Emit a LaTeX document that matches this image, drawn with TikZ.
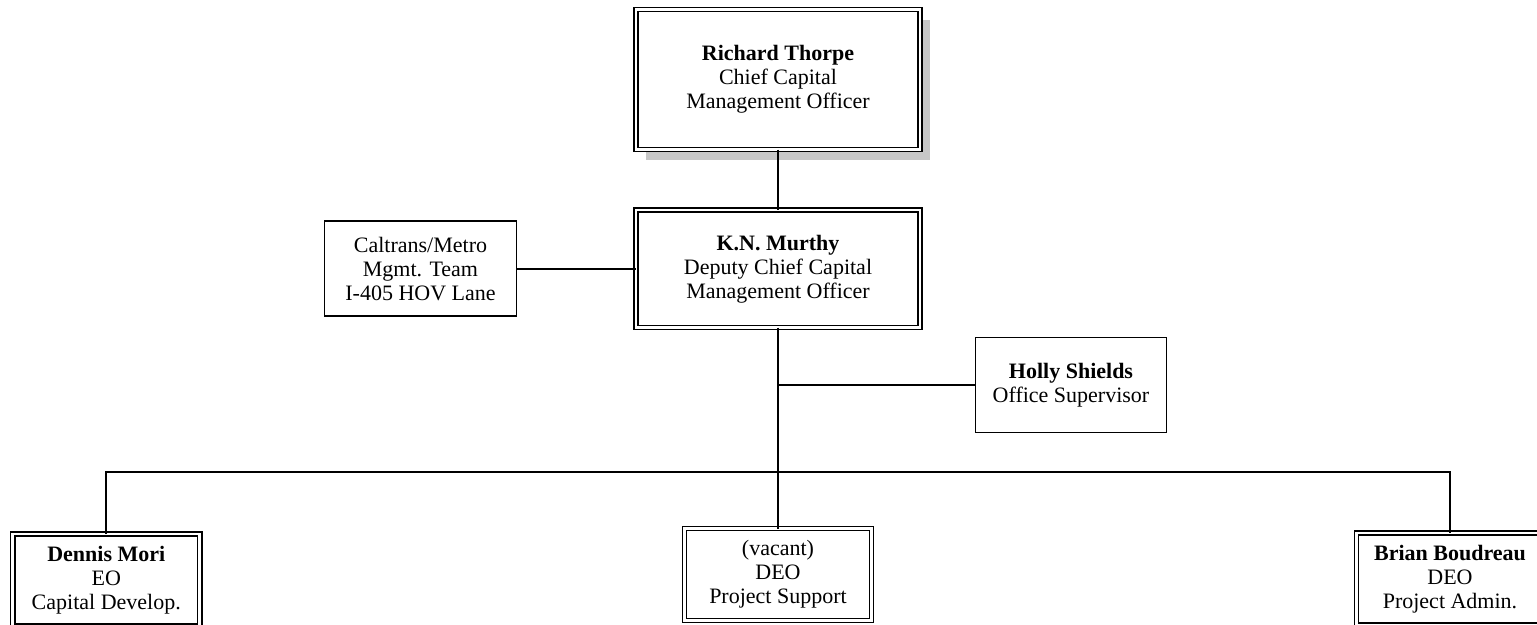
\documentclass[tikz,border=0pt]{standalone}
\usepackage{fontspec}
\setmainfont{Liberation Serif}
\usepackage{tikz}
\usetikzlibrary{positioning,shadows}

\begin{document}
\begin{tikzpicture}[x=1pt,y=-1pt,node distance=60pt and 120pt,
  every node/.style={font=\fontsize{22}{24}\selectfont,align=center,outer sep=0pt,inner sep=2pt},
  post/.style={draw,double,double distance=2.8pt,line width=1.5pt,fill=white,minimum width=187pt,minimum height=92pt},
  aside/.style={draw,line width=1.6pt,minimum width=192pt,minimum height=95pt},
  wire/.style={line width=1.6pt}]
  \useasboundingbox (0,0) rectangle (1537,624);
  \node (thorpe) [post,minimum width=284pt,minimum height=140pt,
    drop shadow={shadow xshift=10pt,shadow yshift=-10pt,fill=black!22,opacity=1}]
    at (778,79.5) {\textbf{Richard Thorpe}\\Chief Capital\\Management Officer};
  \node (murthy) [post,minimum width=284pt,minimum height=117.5pt,below=60.5pt of thorpe]
    {\textbf{K.N. Murthy}\\Deputy Chief Capital\\Management Officer};
  \node (caltrans) [aside,left=119.5pt of murthy] {Caltrans/Metro\\Mgmt. Team\\I-405 HOV Lane};
  \node (holly) [aside,minimum width=191pt] at (1071,385) {\textbf{Holly Shields}\\Office Supervisor};
  \node (vacant) [post,below=201pt of murthy] {(vacant)\\DEO\\Project Support};
  \node (dennis) [post] at (106.25,580) {\textbf{Dennis Mori}\\EO\\Capital Develop.};
  \node (brian) [post] at (1450,579) {\textbf{Brian Boudreau}\\DEO\\Project Admin.};
  \coordinate (bus) at (778,472);
  % lines
  \draw[wire] (thorpe) -- (murthy);
  \draw[wire] (caltrans) -- (murthy);
  \draw[wire] (murthy) -- (bus) -- (vacant);
  \draw[wire] (holly.west) -| (murthy);
  \draw[wire] (dennis.north) |- (bus) -| (brian.north);
\end{tikzpicture}
\end{document}
